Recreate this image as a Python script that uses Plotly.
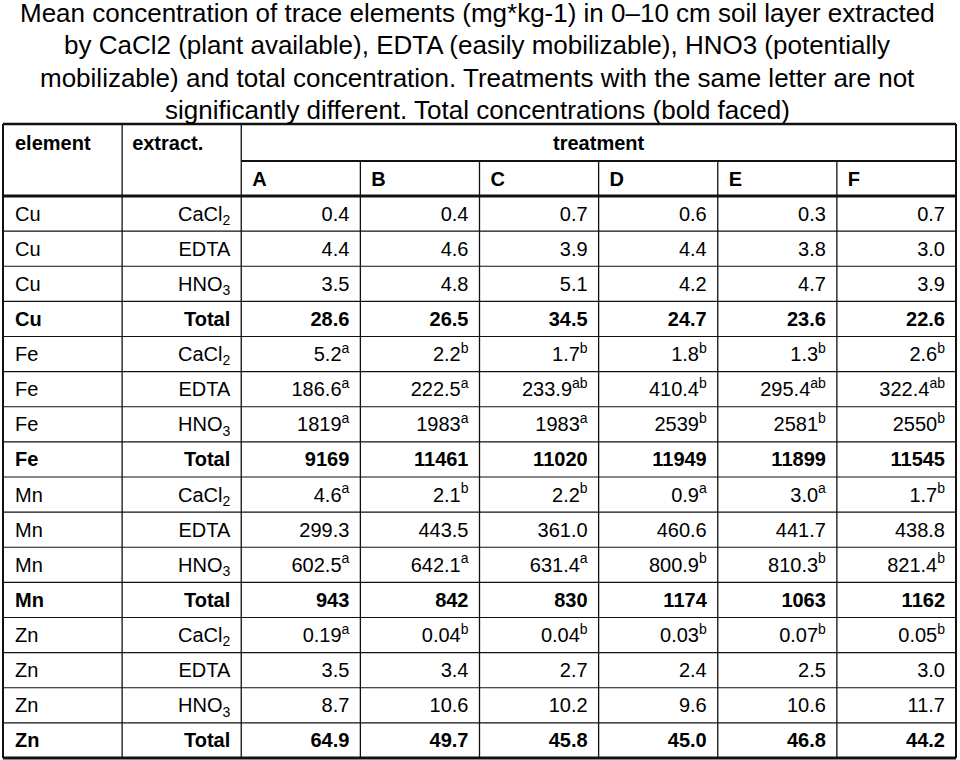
import plotly.graph_objects as go

# ---- table content ----
elements = ['Cu', 'Fe', 'Mn', 'Zn']
extracts = ['CaCl<sub>2</sub>', 'EDTA', 'HNO<sub>3</sub>', 'Total']
treatments = ['A', 'B', 'C', 'D', 'E', 'F']

cu_cacl2 = [0.4, 0.4, 0.7, 0.6, 0.3, 0.7]
cu_edta = [4.4, 4.6, 3.9, 4.4, 3.8, 3.0]
cu_hno3 = [3.5, 4.8, 5.1, 4.2, 4.7, 3.9]
cu_total = [28.6, 26.5, 34.5, 24.7, 23.6, 22.6]

fe_cacl2 = [5.2, 2.2, 1.7, 1.8, 1.3, 2.6]
fe_cacl2_sig = ['a', 'b', 'b', 'b', 'b', 'b']
fe_edta = [186.6, 222.5, 233.9, 410.4, 295.4, 322.4]
fe_edta_sig = ['a', 'a', 'ab', 'b', 'ab', 'ab']
fe_hno3 = [1819, 1983, 1983, 2539, 2581, 2550]
fe_hno3_sig = ['a', 'a', 'a', 'b', 'b', 'b']
fe_total = [9169, 11461, 11020, 11949, 11899, 11545]

mn_cacl2 = [4.6, 2.1, 2.2, 0.9, 3.0, 1.7]
mn_cacl2_sig = ['a', 'b', 'b', 'a', 'a', 'b']
mn_edta = [299.3, 443.5, 361.0, 460.6, 441.7, 438.8]
mn_hno3 = [602.5, 642.1, 631.4, 800.9, 810.3, 821.4]
mn_hno3_sig = ['a', 'a', 'a', 'b', 'b', 'b']
mn_total = [943, 842, 830, 1174, 1063, 1162]

zn_cacl2 = [0.19, 0.04, 0.04, 0.03, 0.07, 0.05]
zn_cacl2_sig = ['a', 'b', 'b', 'b', 'b', 'b']
zn_edta = [3.5, 3.4, 2.7, 2.4, 2.5, 3.0]
zn_hno3 = [8.7, 10.6, 10.2, 9.6, 10.6, 11.7]
zn_total = [64.9, 49.7, 45.8, 45.0, 46.8, 44.2]

# (element, extract index, values, letters, decimals)
table_rows = [
    ('Cu', 0, cu_cacl2, None, 1),
    ('Cu', 1, cu_edta, None, 1),
    ('Cu', 2, cu_hno3, None, 1),
    ('Cu', 3, cu_total, None, 1),
    ('Fe', 0, fe_cacl2, fe_cacl2_sig, 1),
    ('Fe', 1, fe_edta, fe_edta_sig, 1),
    ('Fe', 2, fe_hno3, fe_hno3_sig, 0),
    ('Fe', 3, fe_total, None, 0),
    ('Mn', 0, mn_cacl2, mn_cacl2_sig, 1),
    ('Mn', 1, mn_edta, None, 1),
    ('Mn', 2, mn_hno3, mn_hno3_sig, 1),
    ('Mn', 3, mn_total, None, 0),
    ('Zn', 0, zn_cacl2, zn_cacl2_sig, 2),
    ('Zn', 1, zn_edta, None, 1),
    ('Zn', 2, zn_hno3, None, 1),
    ('Zn', 3, zn_total, None, 1),
]

title_lines = [
    'Mean concentration of trace elements (mg*kg-1) in 0\u201310 cm soil layer extracted',
    'by CaCl2 (plant available), EDTA (easily mobilizable), HNO3 (potentially',
    'mobilizable) and total concentration. Treatments with the same letter are not',
    'significantly different. Total concentrations (bold faced)',
]

# ---- layout constants (pixels) ----
W, H = 960, 760
left_px, right_px = 3, 956
top_px, bottom_px = 124, 758
ncols = 2 + len(treatments)
col_px = (right_px - left_px) / ncols
row_px = (bottom_px - top_px) / (2.05 + len(table_rows))
h1, h2 = 1.05, 1.0           # header row heights in row units
pad = 11 / col_px
dy_body = 2 / row_px         # text sits slightly below cell middle
dy_head = 3 / row_px
font = 'Liberation Sans, Arial, sans-serif'
line_col = '#111111'

fig = go.Figure()


def cell_text(v, d, sig, bold, j):
    s = f'{v:.{d}f}'
    if sig:
        s += f'<sup>{sig[j]}</sup>'
    return f'<b>{s}</b>' if bold else s


y_rows = [h1 + h2 + i + 0.5 + dy_body for i in range(len(table_rows))]

# element column (left aligned)
fig.add_trace(go.Scatter(
    x=[pad + 1 / col_px] * len(table_rows), y=y_rows, mode='text',
    text=[f'<b>{r[0]}</b>' if r[1] == 3 else r[0] for r in table_rows],
    textposition='middle right'))

# extract column (right aligned)
fig.add_trace(go.Scatter(
    x=[2 - pad] * len(table_rows), y=y_rows, mode='text',
    text=[f'<b>{extracts[r[1]]}</b>' if r[1] == 3 else extracts[r[1]] for r in table_rows],
    textposition='middle left'))

# treatment columns
for j, t in enumerate(treatments):
    fig.add_trace(go.Scatter(
        x=[3 + j - pad] * len(table_rows), y=y_rows, mode='text',
        text=[cell_text(r[2][j], r[4], r[3], r[1] == 3, j) for r in table_rows],
        textposition='middle left'))

# headers
fig.add_trace(go.Scatter(
    x=[pad + 1 / col_px, 1 + pad - 1 / col_px] + [2 + j + pad for j in range(len(treatments))],
    y=[h1 / 2 + dy_head] * 2 + [h1 + h2 / 2 + dy_head] * len(treatments),
    mode='text',
    text=['<b>element</b>', '<b>extract.</b>'] + [f'<b>{t}</b>' for t in treatments],
    textposition='middle right'))
fig.add_trace(go.Scatter(
    x=[2 + len(treatments) / 2], y=[h1 / 2 + dy_head], mode='text',
    text=['<b>treatment</b>'], textposition='middle center'))

fig.update_traces(textfont=dict(family=font, size=20, color='black'),
                  hoverinfo='skip', showlegend=False)

# grid lines
y_end = h1 + h2 + len(table_rows)
shapes = []


def hline(y, x0, x1, w):
    shapes.append(dict(type='line', x0=x0, x1=x1, y0=y, y1=y,
                       line=dict(color=line_col, width=w)))


def vline(x, y0, y1, w):
    shapes.append(dict(type='line', x0=x, x1=x, y0=y0, y1=y1,
                       line=dict(color=line_col, width=w)))


for i in range(1, len(table_rows)):
    hline(h1 + h2 + i, 0, ncols, 1.2)
for c in (1, 2):
    vline(c, 0, y_end, 1.3)
for c in range(3, ncols):
    vline(c, h1, y_end, 1.3)
hline(h1, 2, ncols, 2)
hline(0, 0, ncols, 2.5)
hline(h1 + h2, 0, ncols, 3)
hline(y_end, 0, ncols, 3)
vline(0, 0, y_end, 2)
vline(ncols, 0, y_end, 2)

# title, one annotation per line
title_y = [13, 45, 77.5, 110]
annotations = [dict(text=s, xref='paper', yref='paper', x=0.497, y=1 - yy / H,
                    xanchor='center', yanchor='middle', showarrow=False,
                    font=dict(family=font, size=26, color='black'))
               for s, yy in zip(title_lines, title_y)]

fig.update_layout(
    shapes=shapes,
    annotations=annotations,
    width=W, height=H, autosize=False,
    margin=dict(l=0, r=0, t=0, b=0),
    paper_bgcolor='white', plot_bgcolor='white',
    xaxis=dict(range=[-left_px / col_px, (W - left_px) / col_px],
               visible=False, fixedrange=True),
    yaxis=dict(range=[(H - top_px) / row_px, -top_px / row_px],
               visible=False, fixedrange=True),
)

fig.write_html('out.html', config={'displayModeBar': False},
               post_script="document.body.style.margin='0px';")
